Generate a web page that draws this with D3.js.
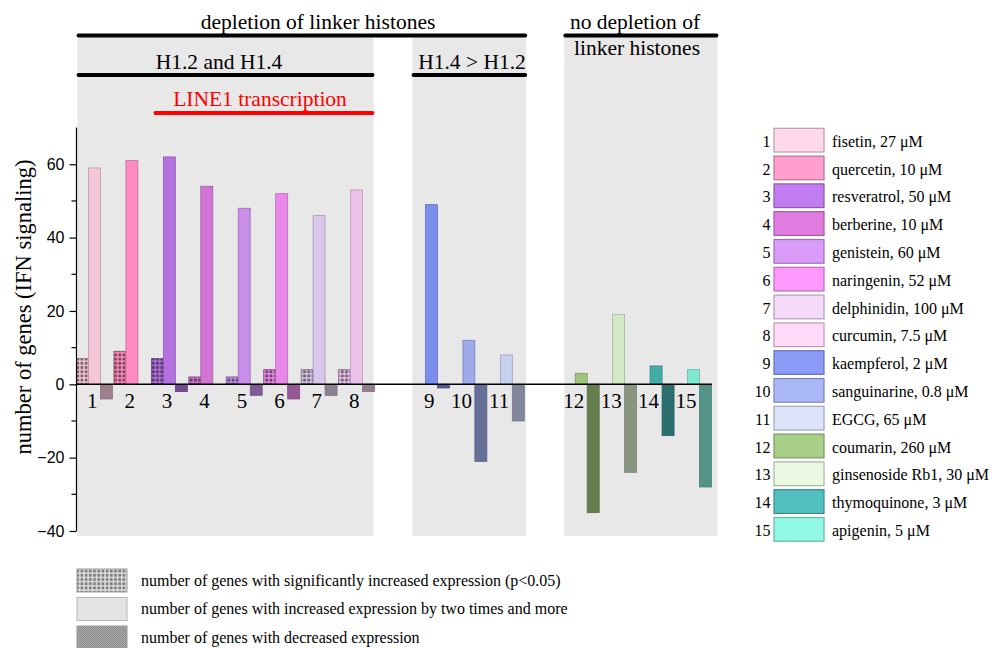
<!DOCTYPE html>
<html>
<head>
<meta charset="utf-8">
<script src="https://cdn.jsdelivr.net/npm/d3@7"></script>
<style>
  body { margin: 0; background: #fff; }
  svg { display: block; }
  text { font-family: "Liberation Serif", "Times New Roman", serif; fill: #000; }
  .tick text { font-family: "Liberation Sans", Arial, sans-serif; }
</style>
</head>
<body>
<svg id="chart" width="992" height="648"></svg>
<script>
// Compounds, numbered 1..15
const ids = d3.range(1, 16).map(String);
const compounds = [
  "fisetin, 27 \u03BCM", "quercetin, 10 \u03BCM", "resveratrol, 50 \u03BCM", "berberine, 10 \u03BCM",
  "genistein, 60 \u03BCM", "naringenin, 52 \u03BCM", "delphinidin, 100 \u03BCM", "curcumin, 7.5 \u03BCM",
  "kaempferol, 2 \u03BCM", "sanguinarine, 0.8 \u03BCM", "EGCG, 65 \u03BCM", "coumarin, 260 \u03BCM",
  "ginsenoside Rb1, 30 \u03BCM", "thymoquinone, 3 \u03BCM", "apigenin, 5 \u03BCM"
];
// 0: H1.2 and H1.4 depleted, 1: H1.4 > H1.2, 2: no depletion
const groupOf = [0, 0, 0, 0, 0, 0, 0, 0, 1, 1, 1, 2, 2, 2, 2];

// number of genes (IFN signaling)
const sigValues      = [7, 9, 7, 2, 2, 4, 4, 4, 0, 0, 0, 0, 0, 0, 0];
const twofoldValues  = [59, 61, 62, 54, 48, 52, 46, 53, 49, 12, 8, 3, 19, 5, 4];
const decValues      = [-4, 0, -2, 0, -3, -4, -3, -2, -1, -21, -10, -35, -24, -14, -28];

const barColors = [
  "#f5c6d8", "#ff8cc0", "#b472e0", "#d274d4", "#c88ee8", "#ea88ea", "#dac6e8", "#ecc2ea",
  "#7b8eec", "#9eaaea", "#c8d0f0", "#9cc47a", "#d4e8c8", "#42acaa", "#80e8d2"
];
const legendColors = [
  "#ffd9ea", "#ff9fcd", "#c07cf0", "#e07ce0", "#d89cf8", "#ff98fc", "#f4d9f8", "#ffd9f8",
  "#8a9cf8", "#abb8f8", "#dce4fa", "#a8d088", "#eafae2", "#52c0c0", "#90f8e4"
];

const yTicks = [-40, -20, 0, 20, 40, 60];
const yMinorTicks = [-30, -10, 10, 30, 50];

const seriesKeys = ["sig", "two", "dec"];
const seriesLabels = [
  "number of genes with significantly increased expression (p<0.05)",
  "number of genes with increased expression by two times and more",
  "number of genes with decreased expression"
];

const svg = d3.select("#chart");
const defs = svg.append("defs");

// one empty slot between groups
const slots = ids.map((d, i) => i + groupOf[i]);
const x = d3.scaleBand().domain(d3.range(17)).range([76.5, 711.5]).paddingInner(0.04);
const xs = d3.scaleBand().domain(seriesKeys).range([0, x.bandwidth()]);
const y = d3.scaleLinear().domain([-40, 70]).range([531, 127.6]);

// fill patterns
function dotPattern(id, base, dot) {
  const p = defs.append("pattern").attr("id", id).attr("patternUnits", "userSpaceOnUse")
    .attr("width", 4.2).attr("height", 4.2);
  p.append("rect").attr("width", 4.2).attr("height", 4.2).attr("fill", base);
  p.append("rect").attr("x", 0.7).attr("y", 0.7).attr("width", 2.8).attr("height", 2.8).attr("fill", dot);
}
function checkPattern(id, base, dark) {
  const p = defs.append("pattern").attr("id", id).attr("patternUnits", "userSpaceOnUse")
    .attr("width", 2).attr("height", 2);
  p.append("rect").attr("width", 2).attr("height", 2).attr("fill", base);
  p.append("rect").attr("width", 1).attr("height", 1).attr("fill", dark);
  p.append("rect").attr("x", 1).attr("y", 1).attr("width", 1).attr("height", 1).attr("fill", dark);
}
barColors.forEach((c, i) => {
  dotPattern("sig-" + i, c, d3.color(c).darker(2.0).formatHex());
  checkPattern("dec-" + i, d3.color(c).darker(1.0).formatHex(), d3.color(c).darker(1.5).formatHex());
});
dotPattern("sig-key", "#e0e0e0", "#7e7e7e");
checkPattern("dec-key", "#acacac", "#8a8a8a");

// shaded panels behind each group
const panelPad = [[1, -1], [-1, 2], [1, 6]];
const panels = [0, 1, 2].map(g => {
  const members = slots.filter((s, i) => groupOf[i] === g);
  return {
    x0: x(d3.min(members)) + panelPad[g][0],
    x1: x(d3.max(members)) + x.bandwidth() + panelPad[g][1]
  };
});
svg.append("g").selectAll("rect").data(panels).join("rect")
  .attr("x", d => d.x0).attr("y", 36)
  .attr("width", d => d.x1 - d.x0).attr("height", 500)
  .attr("fill", "#e8e8e8");

// bars
const rows = ids.map((id, i) => ({
  i, slot: slots[i],
  sig: sigValues[i], two: twofoldValues[i], dec: decValues[i]
}));
const barG = svg.append("g");
seriesKeys.forEach(key => {
  barG.append("g").selectAll("rect")
    .data(rows.filter(d => d[key] !== 0))
    .join("rect")
    .attr("x", d => x(d.slot) + xs(key))
    .attr("width", xs.bandwidth())
    .attr("y", d => y(Math.max(0, d[key])))
    .attr("height", d => Math.abs(y(d[key]) - y(0)))
    .attr("fill", d => key === "two" ? barColors[d.i] : `url(#${key}-${d.i})`)
    .attr("stroke", d => d3.color(barColors[d.i]).darker(key === "two" ? 0.7 : 1.6).formatHex())
    .attr("stroke-width", 0.8);
});

// zero line
svg.append("line")
  .attr("x1", 76).attr("x2", 712)
  .attr("y1", y(0)).attr("y2", y(0))
  .attr("stroke", "#000").attr("stroke-width", 1.4);

// category numbers under the zero line
svg.append("g").selectAll("text").data(rows).join("text")
  .attr("x", d => x(d.slot) + xs("two") + xs.bandwidth() / 2 + 3)
  .attr("y", 408)
  .attr("text-anchor", "end")
  .style("font-size", "21px")
  .text(d => ids[d.i]);

// y axis
const yAxis = svg.append("g").attr("transform", "translate(76.5,0)")
  .call(d3.axisLeft(y).tickValues(yTicks).tickSize(7).tickPadding(5));
yAxis.select(".domain").attr("d", `M-0,${y(-40)}V${y(70)}`).attr("stroke-width", 1.2);
yAxis.selectAll(".tick line").attr("stroke-width", 1.2);
yAxis.selectAll(".tick text").style("font-size", "16px");
yAxis.append("g").selectAll("line").data(yMinorTicks).join("line")
  .attr("x1", -5).attr("x2", 0)
  .attr("y1", d => y(d)).attr("y2", d => y(d))
  .attr("stroke", "#000").attr("stroke-width", 1.2);

svg.append("text")
  .attr("transform", "translate(31,307) rotate(-90)")
  .attr("text-anchor", "middle")
  .style("font-size", "22.5px")
  .text("number of genes (IFN signaling)");

// group annotations
const ann = svg.append("g");
function bar(x1, x2, yy, color) {
  ann.append("line").attr("x1", x1).attr("x2", x2).attr("y1", yy).attr("y2", yy)
    .attr("stroke", color).attr("stroke-width", 3.8).attr("stroke-linecap", "round");
}
function label(txt, cx, by, color) {
  ann.append("text").attr("x", cx).attr("y", by).attr("text-anchor", "middle")
    .style("font-size", "21.5px").style("fill", color || "#000").text(txt);
}
bar(panels[0].x0 + 1, panels[1].x1 - 1, 35.5, "#000");
label("depletion of linker histones", 318, 29);
bar(panels[2].x0 + 1, panels[2].x1 - 1, 35.5, "#000");
label("no depletion of", 635, 29);
label("linker histones", 637, 54.5);
bar(panels[0].x0 + 1, panels[0].x1 - 1, 75, "#000");
label("H1.2 and H1.4", 219, 68.5);
bar(panels[1].x0 + 1, panels[1].x1 - 1, 75, "#000");
label("H1.4 > H1.2", 472, 68.5);
label("LINE1 transcription", 260, 106, "#ff0000");
bar(x(slots[2]) + 4, panels[0].x1 - 1, 113, "#ff0000");

// compound key
const key = svg.append("g");
const keyRow = key.selectAll("g").data(compounds).join("g")
  .attr("transform", (d, i) => `translate(0,${128.3 + i * 27.8})`);
keyRow.append("rect")
  .attr("x", 774).attr("width", 50).attr("height", 23.7)
  .attr("fill", (d, i) => legendColors[i])
  .attr("stroke", (d, i) => d3.color(legendColors[i]).darker(0.9).formatHex())
  .attr("stroke-width", 1.2);
keyRow.append("text")
  .attr("x", 770.5).attr("y", 18.5).attr("text-anchor", "end")
  .style("font-size", "16px").text((d, i) => ids[i]);
keyRow.append("text")
  .attr("x", 832).attr("y", 18.5)
  .style("font-size", "16px").text(d => d);

// series key
const sk = svg.append("g");
const skRow = sk.selectAll("g").data(seriesKeys).join("g")
  .attr("transform", (d, i) => `translate(0,${569 + i * 28.5})`);
skRow.append("rect")
  .attr("x", 77).attr("width", 50).attr("height", 23)
  .attr("fill", d => d === "two" ? "#e4e4e4" : `url(#${d}-key)`)
  .attr("stroke", d => d === "two" ? "#b4b4b4" : "#9a9a9a")
  .attr("stroke-width", 1);
skRow.append("text")
  .attr("x", 141).attr("y", 16.5)
  .style("font-size", "16px").text((d, i) => seriesLabels[i]);
</script>
</body>
</html>
